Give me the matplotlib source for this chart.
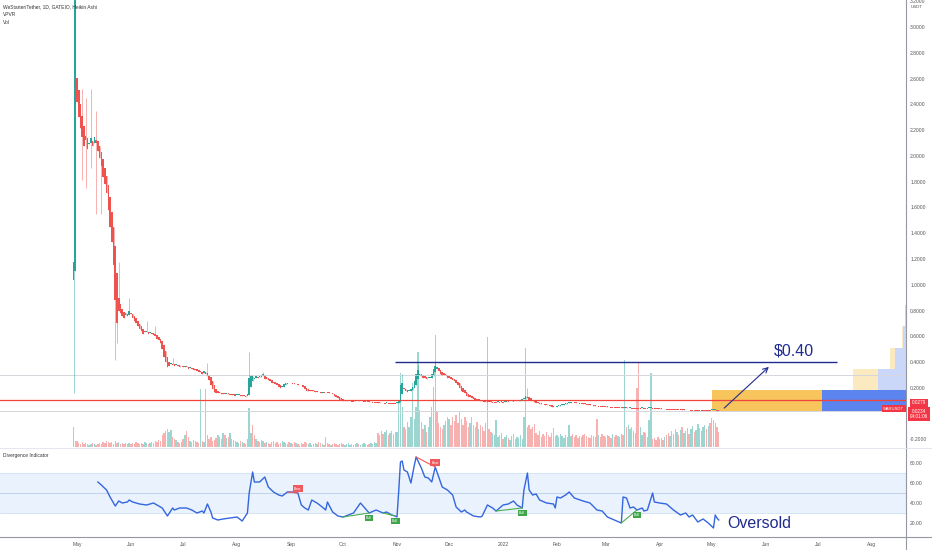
import numpy as np
import pandas as pd
import matplotlib
matplotlib.use("Agg")
import matplotlib.pyplot as plt
import matplotlib.dates as mdates
from matplotlib.lines import Line2D

plt.rcParams['font.family'] = ['Liberation Sans', 'DejaVu Sans']
NARROW = ['Liberation Sans Narrow', 'Liberation Sans', 'DejaVu Sans']

# Heikin Ashi closes (USDT), one per day starting 2021-04-29
apr21 = [1.18, 4.10]
may21 = [2.42, 2.30, 2.22, 2.15, 2.08, 2.12, 2.05, 2.10, 2.14, 2.08, 2.15, 2.10, 2.04, 1.98,
         1.92, 1.84, 1.78, 1.71, 1.58, 1.45, 1.33, 1.15, 0.88, 0.70, 0.80, 0.78,
         0.76, 0.74, 0.78, 0.76, 0.80]
jun21 = [0.77, 0.74, 0.72, 0.70, 0.68, 0.66, 0.64, 0.62, 0.63, 0.64, 0.62, 0.63, 0.62, 0.61,
         0.60, 0.58, 0.57, 0.55, 0.50, 0.44, 0.40, 0.36, 0.37, 0.39, 0.38, 0.37, 0.38, 0.37,
         0.36, 0.37]
jul21 = [0.36, 0.37, 0.36, 0.35, 0.36, 0.35, 0.34, 0.34, 0.33, 0.32, 0.32, 0.31, 0.33, 0.31,
         0.29, 0.26, 0.22, 0.19, 0.17, 0.16, 0.16, 0.16, 0.155, 0.155, 0.15, 0.16, 0.15, 0.15,
         0.145, 0.15, 0.14]
aug21 = [0.145, 0.15, 0.14, 0.14, 0.135, 0.13, 0.15, 0.28, 0.30, 0.29, 0.28, 0.29, 0.28, 0.29,
         0.30, 0.31, 0.27, 0.27, 0.26, 0.25, 0.24, 0.24, 0.23, 0.22, 0.21, 0.20, 0.21, 0.23,
         0.24, 0.24, 0.235]
sep21 = [0.24, 0.235, 0.23, 0.23, 0.22, 0.225, 0.22, 0.21, 0.19, 0.18, 0.18, 0.18, 0.18, 0.175,
         0.17, 0.17, 0.165, 0.16, 0.17, 0.165, 0.17, 0.165, 0.16, 0.16, 0.15, 0.14, 0.13, 0.12,
         0.11, 0.105]
oct21 = [0.10, 0.10, 0.10, 0.10, 0.10, 0.10, 0.10, 0.105, 0.105, 0.10, 0.10, 0.10, 0.10, 0.095,
         0.095, 0.09, 0.09, 0.09, 0.09, 0.09, 0.085, 0.085, 0.085, 0.08, 0.08, 0.085, 0.08, 0.08,
         0.08, 0.08, 0.08]
nov21 = [0.09, 0.10, 0.22, 0.24, 0.19, 0.18, 0.17, 0.18, 0.19, 0.21, 0.25, 0.31, 0.34, 0.31,
         0.29, 0.28, 0.28, 0.27, 0.28, 0.28, 0.31, 0.35, 0.37, 0.36, 0.33, 0.31, 0.30, 0.30,
         0.29, 0.28]
dec21 = [0.28, 0.27, 0.26, 0.25, 0.24, 0.22, 0.20, 0.18, 0.17, 0.16, 0.14, 0.13, 0.13, 0.12,
         0.115, 0.11, 0.105, 0.105, 0.10, 0.095, 0.09, 0.09, 0.10, 0.095, 0.09, 0.09, 0.09, 0.09,
         0.092, 0.09, 0.095]
jan22 = [0.09, 0.095, 0.10, 0.095, 0.10, 0.10, 0.095, 0.10, 0.10, 0.105, 0.11, 0.115, 0.12, 0.14,
         0.125, 0.11, 0.10, 0.095, 0.09, 0.085, 0.08, 0.078, 0.075, 0.072, 0.07, 0.068, 0.065,
         0.06, 0.055, 0.052, 0.05]
feb22 = [0.06, 0.065, 0.07, 0.072, 0.075, 0.08, 0.085, 0.088, 0.09, 0.088, 0.087, 0.085, 0.083,
         0.082, 0.08, 0.078, 0.075, 0.072, 0.07, 0.068, 0.065, 0.063, 0.062, 0.06, 0.06, 0.058,
         0.057, 0.056]
mar22 = [0.055, 0.054, 0.053, 0.052, 0.052, 0.051, 0.050, 0.050, 0.049, 0.048, 0.047, 0.049,
         0.045, 0.045, 0.046, 0.045, 0.045, 0.045, 0.044, 0.043, 0.043, 0.044, 0.043, 0.043,
         0.042, 0.043, 0.045, 0.043, 0.042, 0.041, 0.040]
apr22 = [0.04, 0.039, 0.038, 0.038, 0.037, 0.036, 0.036, 0.035, 0.035, 0.034, 0.034, 0.033,
         0.033, 0.032, 0.032, 0.031, 0.031, 0.030, 0.030, 0.030, 0.029, 0.029, 0.029, 0.028,
         0.028, 0.028, 0.028, 0.027, 0.027, 0.026]
may22 = [0.027, 0.028, 0.029, 0.028, 0.0279]
first_open = 1.04

wick_high = {"2021-04-29": 3.35, "2021-04-30": 4.2, "2021-05-04": 2.52, "2021-05-06": 2.45,
             "2021-05-09": 2.52, "2021-05-12": 2.35, "2021-05-25": 1.18, "2021-05-31": 0.90,
             "2021-06-10": 0.72, "2021-06-15": 0.68, "2021-06-25": 0.43, "2021-07-15": 0.39,
             "2021-08-08": 0.48, "2021-08-16": 0.32, "2021-11-04": 0.31, "2021-11-13": 0.38,
             "2021-11-23": 0.40, "2022-01-15": 0.20}
wick_low = {"2021-04-29": 0.16, "2021-05-04": 1.81, "2021-05-06": 1.75, "2021-05-09": 1.91,
            "2021-05-12": 1.55, "2021-05-15": 1.55, "2021-05-23": 0.42, "2021-05-24": 0.55}

# volume (relative units)
vol_apr21 = [20, 6]
vol_may21 = [6, 4, 3, 5, 3, 4, 3, 2, 3, 4, 3, 2, 3, 4, 3, 5, 4, 6, 5, 4, 5, 3, 6, 4, 5, 3, 4, 3, 4, 3, 4]
vol_jun21 = [3, 4, 3, 5, 4, 3, 4, 3, 5, 4, 3, 4, 5, 4, 6, 5, 7, 6, 12, 14, 16, 18, 15, 17, 10, 8, 7, 5, 4, 5]
vol_jul21 = [8, 12, 16, 10, 6, 5, 7, 6, 5, 4, 58, 6, 5, 58, 12, 8, 10, 6, 7, 9, 12, 10, 8, 14, 12, 9, 10, 14, 8, 7, 6]
vol_aug21 = [5, 4, 6, 5, 4, 3, 8, 39, 14, 22, 12, 8, 6, 5, 7, 6, 4, 5, 4, 3, 5, 6, 4, 5, 3, 4, 6, 5, 4, 3, 5]
vol_sep21 = [4, 3, 5, 4, 3, 2, 4, 3, 5, 4, 3, 4, 2, 3, 4, 3, 5, 4, 3, 2, 10, 4, 3, 2, 3, 4, 3, 2, 3, 4]
vol_oct21 = [3, 2, 3, 4, 2, 3, 2, 3, 4, 3, 2, 3, 4, 3, 2, 3, 4, 3, 5, 4, 14, 12, 16, 13, 15, 17, 12, 14, 16, 13, 15]
vol_nov21 = [15, 44, 74, 40, 20, 18, 25, 20, 30, 64, 28, 40, 95, 37, 25, 18, 22, 15, 20, 30, 40, 60, 112, 35, 24, 20, 18, 22, 26, 30]
vol_dec21 = [28, 22, 30, 26, 32, 24, 35, 28, 22, 30, 26, 20, 24, 30, 22, 20, 25, 18, 22, 20, 16, 24, 110, 18, 15, 14, 12, 27, 10, 12, 14]
vol_jan22 = [8, 10, 12, 9, 7, 11, 13, 8, 10, 9, 12, 8, 30, 99, 20, 22, 18, 20, 23, 14, 12, 16, 10, 13, 11, 15, 12, 10, 14, 19, 11]
vol_feb22 = [12, 10, 13, 11, 9, 12, 10, 22, 11, 13, 10, 12, 9, 11, 10, 12, 13, 11, 10, 9, 12, 11, 10, 28, 12, 10, 13, 11]
vol_mar22 = [10, 12, 11, 9, 13, 10, 12, 11, 10, 13, 12, 87, 20, 22, 18, 20, 16, 14, 59, 84, 20, 12, 15, 14, 10, 27, 74, 8, 9, 7, 10]
vol_apr22 = [8, 9, 7, 10, 12, 14, 11, 16, 13, 18, 15, 12, 17, 20, 14, 16, 19, 13, 18, 21, 15, 17, 23, 19, 16, 20, 22, 18, 21, 24]
vol_may22 = [29, 27, 24, 20, 15]

# divergence indicator: days after 2021-05-01 and value
osc_day = [12, 14, 17, 19, 21, 22, 24, 26, 29, 30, 32, 36, 40, 42, 44, 46, 49, 52, 55, 56, 59, 63, 66, 69,
           72, 73, 75, 77, 78, 81, 84, 88, 92, 95, 98, 99, 101, 102, 105, 108, 110, 113, 116, 118, 121,
           124, 127, 129, 131, 133, 135, 138, 141, 143, 144, 147, 150, 153, 156, 159, 163, 164, 168,
           172, 176, 178, 181, 183, 184, 185, 186, 187, 188, 190, 192, 194, 195, 198, 200, 202, 204,
           206, 208, 210, 213, 216, 218, 221, 223, 224, 226, 228, 232, 233, 236, 239, 241, 245, 248,
           251, 253, 256, 257, 259, 260, 262, 264, 266, 270, 274, 275, 276, 278, 281, 283, 286, 291,
           295, 299, 302, 305, 309, 313, 314, 316, 318, 320, 322, 325, 326, 328, 331, 332, 335, 339,
           343, 347, 350, 352, 354, 357, 360, 363, 366, 367, 368, 369]
osc_val = [61, 58, 53, 46, 40, 37, 42, 40, 41, 43, 41, 39, 38, 39, 40, 38, 35, 27, 35, 33, 35, 35, 33, 30,
           32, 30, 39, 31, 25, 23, 24, 25, 26, 22, 30, 50, 71, 61, 61, 66, 56, 51, 48, 47, 51,
           51, 50, 38, 35, 33, 43, 40, 36, 33, 41, 31, 27, 26, 28, 30, 40, 38, 30,
           33, 30, 31, 28, 27, 26, 52, 81, 82, 73, 71, 60, 78, 86, 75, 66, 65, 61,
           76, 66, 56, 53, 48, 36, 31, 33, 31, 29, 27, 26, 27, 38, 35, 32, 38, 39,
           42, 38, 35, 53, 70, 53, 48, 49, 43, 40, 39, 35, 46, 45, 48, 51, 45, 42,
           40, 33, 32, 26, 23, 20, 46, 45, 35, 36, 33, 35, 32, 33, 50, 41, 40, 39,
           33, 28, 30, 26, 28, 21, 24, 20, 15, 28, 25, 23]
bear_pairs = [(121, 127), (195, 206)]
bull_pairs = [(153, 168), (176, 183), (241, 256), (313, 322)]

# volume profile rows (bottom price, up volume, down volume)
vp_bottom = [0.021, 0.185, 0.349, 0.513, 0.677]
vp_up = [84, 28, 11, 3, 1]
vp_down = [110, 25, 5, 1, 0]
vp_step = 0.164

months = ['May', 'Jun', 'Jul', 'Aug', 'Sep', 'Oct', 'Nov', 'Dec', '2022',
          'Feb', 'Mar', 'Apr', 'May', 'Jun', 'Jul', 'Aug']
price_ticks = [-0.2, 0.2, 0.4, 0.6, 0.8, 1.0, 1.2, 1.4, 1.6, 1.8, 2.0, 2.2, 2.4, 2.6, 2.8, 3.0, 3.2]
osc_ticks = [20, 40, 60, 80]

TEAL = '#26a69a'
RED = '#ef5350'
NAVY = '#1f2b8f'

closes = np.array(apr21 + may21 + jun21 + jul21 + aug21 + sep21 + oct21 + nov21 + dec21
                  + jan22 + feb22 + mar22 + apr22 + may22)
vols = np.array(vol_apr21 + vol_may21 + vol_jun21 + vol_jul21 + vol_aug21 + vol_sep21 + vol_oct21
                + vol_nov21 + vol_dec21 + vol_jan22 + vol_feb22 + vol_mar22 + vol_apr22 + vol_may22)
dates = pd.date_range("2021-04-29", periods=len(closes), freq="D")
x = mdates.date2num(dates)
base = mdates.date2num(pd.Timestamp("2021-05-01"))

opens = np.empty_like(closes)
opens[0] = first_open
for i in range(1, len(closes)):
    opens[i] = (opens[i - 1] + closes[i - 1]) / 2
highs = np.maximum(opens, closes)
lows = np.minimum(opens, closes)
for d, v in wick_high.items():
    i = (pd.Timestamp(d) - dates[0]).days
    highs[i] = max(highs[i], v)
for d, v in wick_low.items():
    i = (pd.Timestamp(d) - dates[0]).days
    lows[i] = min(lows[i], v)
up = closes >= opens
cols = np.where(up, TEAL, RED)
body = closes - opens
body = np.where(np.abs(body) < 0.006, np.where(up, 0.006, -0.006), body)

vol_up = np.concatenate([[True], np.diff(closes) >= 0])
vol_cols = np.where(vol_up, TEAL, RED)

W, H = 932, 550
fig = plt.figure(figsize=(9.32, 5.5), dpi=100)
rect_p = [0, 1 - 447 / H, 906 / W, 447 / H]
rect_o = [0, 1 - 537 / H, 906 / W, 90 / H]
xlim = (base - 44.28, base + 476.7)
ylim_p = (-0.2583, 3.2095)

# volume profile (drawn from the right edge)
ax_vp = fig.add_axes(rect_p)
ax_vp.set_xlim(906, 0)
ax_vp.set_ylim(ylim_p)
for i in range(len(vp_bottom)):
    strong = i == 0
    ax_vp.barh(vp_bottom[i], vp_up[i], height=vp_step, left=0, align='edge',
               color='#5b84ee' if strong else '#cad7f8', lw=0)
    ax_vp.barh(vp_bottom[i], vp_down[i], height=vp_step, left=vp_up[i], align='edge',
               color='#f8c55c' if strong else '#fbe9c0', lw=0)
ax_vp.axis('off')

ax_vol = fig.add_axes(rect_p)
ax_vol.bar(x, vols, width=0.8, color=vol_cols, alpha=0.45, lw=0)
ax_vol.set_xlim(xlim)
ax_vol.set_ylim(0, 447)
ax_vol.axis('off')

ax = fig.add_axes(rect_p)
ax.patch.set_visible(False)
ax.axhline(0.30, color='#d4d6dc', lw=0.7)
ax.axhline(0.021, color='#d4d6dc', lw=0.7)
ax.axhline(0.106, color='#f2443a', lw=0.9)
ax.vlines(x, lows, highs, colors=cols, lw=0.7, alpha=0.45)
ax.bar(x, body, bottom=opens, width=0.9, color=cols, lw=0)
ax.hlines(0.40, mdates.date2num(pd.Timestamp("2021-10-31")),
          mdates.date2num(pd.Timestamp("2022-07-12")), color=NAVY, lw=1)
ax.annotate('', xy=(mdates.date2num(pd.Timestamp("2022-06-04")), 0.378),
            xytext=(mdates.date2num(pd.Timestamp("2022-05-07")), 0.029),
            arrowprops=dict(arrowstyle='->', color=NAVY, lw=0.8, mutation_scale=9))
ax.text(mdates.date2num(pd.Timestamp("2022-06-06")), 0.486, '$0.40', color=NAVY,
        fontsize=11.5, family=NARROW, ha='left', va='center')
ax.set_xlim(xlim)
ax.set_ylim(ylim_p)
ax.yaxis.tick_right()
ax.set_yticks(price_ticks)
ax.set_yticklabels([f"{v:.4f}" for v in price_ticks])
ax.tick_params(axis='y', length=0, pad=3, labelsize=3.6, labelcolor='#555555')
ax.set_xticks([])
for s in ax.spines.values():
    s.set_visible(False)

# indicator pane
ax2 = fig.add_axes(rect_o)
ax2.axhspan(30, 70, color='#e9f2fd', lw=0)
ax2.axhline(70, color='#cfe0f5', lw=0.6)
ax2.axhline(30, color='#cfe0f5', lw=0.6)
ax2.axhline(50, color='#b9cde6', lw=0.6)
ox = base + np.array(osc_day)
ax2.plot(ox, osc_val, color='#3466dd', lw=1)
lookup = dict(zip(osc_day, osc_val))
for a, b in bear_pairs:
    ax2.plot([base + a, base + b], [lookup[a], lookup[b]], color='#f05a5e', lw=0.8)
    ax2.text(base + b, lookup[b] + 4.5, 'Bear', fontsize=2.6, color='white', ha='center', va='center',
             bbox=dict(boxstyle='square,pad=0.35', fc='#f05a5e', ec='none'))
for a, b in bull_pairs:
    ax2.plot([base + a, base + b], [lookup[a], lookup[b]], color='#4caf50', lw=0.8)
    ax2.text(base + b, lookup[b] - 5, 'Bull', fontsize=2.6, color='white', ha='center', va='center',
             bbox=dict(boxstyle='square,pad=0.35', fc='#3fa54a', ec='none'))
ax2.text(mdates.date2num(pd.Timestamp("2022-05-10")), 20, 'Oversold', color=NAVY,
         fontsize=11.5, family=NARROW, ha='left', va='center')
ax2.set_xlim(xlim)
ax2.set_ylim(6, 96)
ax2.yaxis.tick_right()
ax2.set_yticks(osc_ticks)
ax2.set_yticklabels([f"{v:.2f}" for v in osc_ticks])
ax2.tick_params(axis='y', length=0, pad=3, labelsize=3.6, labelcolor='#555555')
mticks = mdates.date2num(pd.date_range("2021-05-01", periods=len(months), freq="MS"))
ax2.set_xticks(mticks)
ax2.set_xticklabels(months)
ax2.tick_params(axis='x', length=0, pad=3.5, labelsize=3.6, labelcolor='#555555')
for s in ax2.spines.values():
    s.set_visible(False)

# frame lines
fig.add_artist(Line2D([906 / W, 906 / W], [0, 1], color='#9598a1', lw=0.8))
fig.add_artist(Line2D([0, 1], [1 - 537 / H, 1 - 537 / H], color='#9598a1', lw=0.8))
fig.add_artist(Line2D([0, 1], [1 - 447.5 / H, 1 - 447.5 / H], color='#e0e3eb', lw=0.6))

# legend texts
fig.text(3 / W, 1 - 7 / H, 'WeStarter/Tether, 1D, GATEIO, Heikin Ashi', fontsize=3.5, color='#333333', va='center')
fig.text(3 / W, 1 - 15 / H, 'VPVR', fontsize=3.5, color='#333333', va='center')
fig.text(3 / W, 1 - 22.5 / H, 'Vol', fontsize=3.5, color='#333333', va='center')
fig.text(3 / W, 1 - 455 / H, 'Divergence Indicator', fontsize=3.5, color='#333333', va='center')
fig.text(917 / W, 1 - 7 / H, 'USDT', fontsize=3.2, color='#555555', ha='center', va='center')

# price labels
lab = dict(boxstyle='square,pad=0.3', fc='#f23645', ec='none')
fig.text(894 / W, 1 - 408.5 / H, 'WARUSDT', fontsize=3, color='white', ha='center', va='center', bbox=lab)
fig.text(919 / W, 1 - 403 / H, '0.0279', fontsize=3.4, color='white', ha='center', va='center', bbox=lab)
fig.text(919 / W, 1 - 414 / H, '0.0234\n04:01:06', fontsize=3.4, color='white', ha='center', va='center',
         linespacing=1.1, bbox=lab)

fig.savefig('out.png', dpi=100)
